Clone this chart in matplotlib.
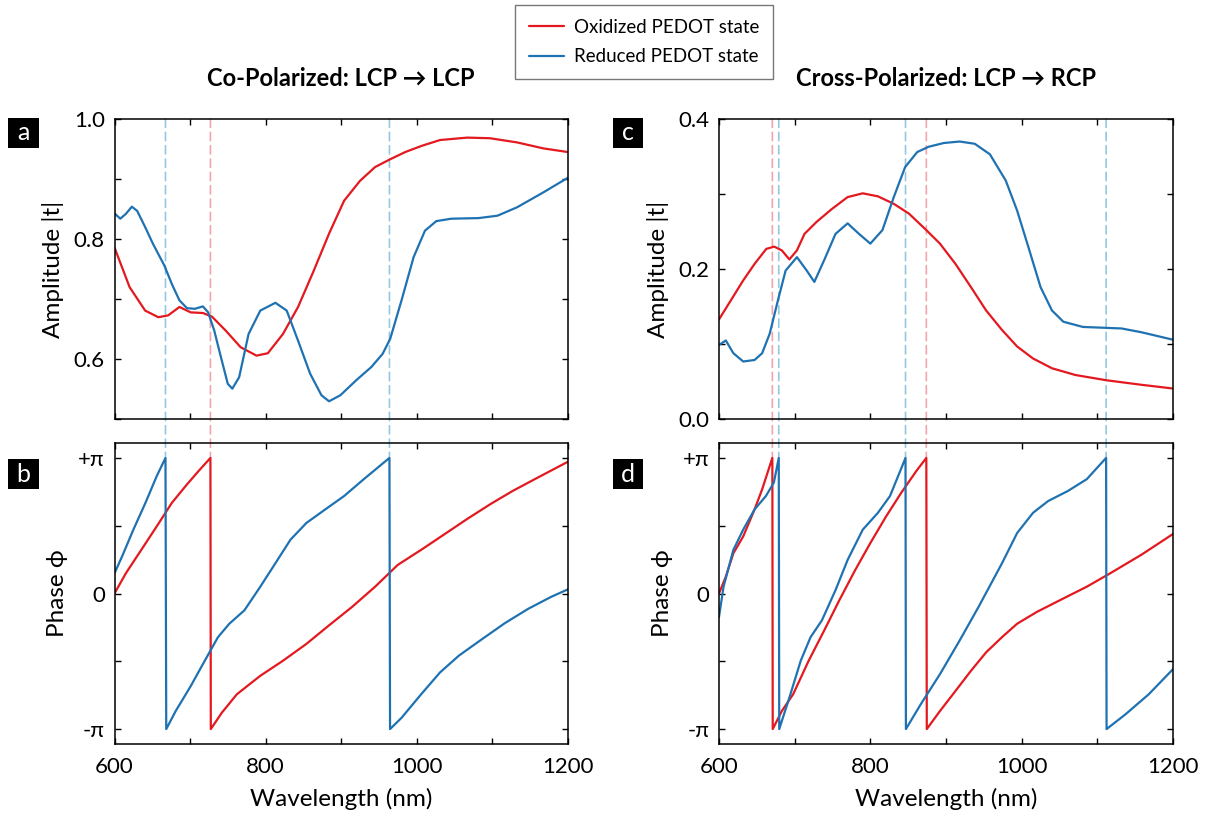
import numpy as np
import matplotlib
matplotlib.use('Agg')
import matplotlib.pyplot as plt
from matplotlib.patches import ConnectionPatch, Rectangle
from matplotlib.ticker import MultipleLocator, FixedLocator

plt.rcParams['font.family'] = ['Lato', 'DejaVu Sans']

# ---------------- data ----------------
# Panel a: co-polarized amplitude
wl_a_ox = [600, 620, 640.6, 658, 671, 686, 701, 717, 729, 747, 767, 788, 803, 823, 843, 864,
           884, 904, 925, 945, 965, 985, 1006, 1031, 1067, 1097, 1133, 1168, 1200]
amp_a_ox = [0.786, 0.720, 0.681, 0.670, 0.673, 0.687, 0.678, 0.677, 0.671, 0.648, 0.620, 0.606,
            0.610, 0.642, 0.687, 0.748, 0.809, 0.864, 0.897, 0.920, 0.933, 0.945, 0.955, 0.965,
            0.969, 0.968, 0.961, 0.951, 0.945]
wl_a_red = [600, 607.6, 615, 623, 630, 640.6, 651, 666, 676, 686, 696, 706.5, 717, 724, 732, 742,
            750, 756, 765, 777.5, 793, 813, 828, 843, 859, 874, 884, 899, 920, 940, 955, 965,
            980, 996, 1011, 1026, 1046, 1082, 1107, 1133, 1168, 1200]
amp_a_red = [0.843, 0.834, 0.842, 0.854, 0.847, 0.820, 0.792, 0.756, 0.725, 0.698, 0.685, 0.684,
             0.688, 0.678, 0.648, 0.598, 0.559, 0.551, 0.570, 0.642, 0.681, 0.694, 0.681, 0.631,
             0.576, 0.540, 0.530, 0.540, 0.565, 0.587, 0.609, 0.634, 0.698, 0.770, 0.814, 0.830,
             0.834, 0.835, 0.839, 0.853, 0.878, 0.902]

# Panel b: co-polarized phase (units of pi)
wl_b_ox = [600, 615, 635.5, 656, 676, 696, 711.6, 727, 727.5, 742, 762, 793, 823, 854, 884, 914.5,
           945, 975, 1006, 1036, 1067, 1097, 1127, 1158, 1200]
ph_b_ox = [0.0, 0.149, 0.322, 0.496, 0.669, 0.805, 0.905, 1.0, -1.0, -0.880, -0.743, -0.607,
           -0.496, -0.372, -0.235, -0.099, 0.050, 0.211, 0.322, 0.434, 0.550, 0.657, 0.756,
           0.848, 0.971]
wl_b_red = [600, 610, 625, 641, 656, 667.5, 668.5, 681, 701, 722, 737, 752, 772, 793, 813, 833,
            854, 879, 904, 930, 964, 964.8, 980, 1006, 1031, 1056, 1087, 1117, 1148, 1178, 1200]
ph_b_red = [0.149, 0.273, 0.471, 0.669, 0.867, 1.0, -1.0, -0.867, -0.682, -0.471, -0.322, -0.223,
            -0.124, 0.050, 0.223, 0.397, 0.520, 0.620, 0.719, 0.843, 1.0, -1.0, -0.917, -0.743,
            -0.582, -0.458, -0.335, -0.218, -0.112, -0.025, 0.030]

# Panel c: cross-polarized amplitude
wl_c_ox = [600, 616, 632, 647, 662.5, 673, 683, 693, 703, 713, 729, 749, 770, 790, 810, 831, 851,
           874, 892, 912.5, 933, 953, 974, 994, 1015, 1040, 1071, 1112, 1158, 1200]
amp_c_ox = [0.133, 0.159, 0.185, 0.207, 0.227, 0.230, 0.225, 0.213, 0.225, 0.247, 0.263, 0.280,
            0.296, 0.301, 0.297, 0.287, 0.274, 0.252, 0.234, 0.207, 0.176, 0.145, 0.119, 0.097,
            0.081, 0.068, 0.059, 0.052, 0.046, 0.041]
wl_c_red = [600, 609, 619, 632, 647, 657, 667, 678, 688, 703, 716, 726, 739, 754, 770, 785, 800,
            816, 831, 846, 862, 877, 897, 918, 938, 958, 979, 994, 1009, 1025, 1040, 1055, 1081,
            1132, 1158, 1200]
amp_c_red = [0.099, 0.105, 0.088, 0.077, 0.079, 0.088, 0.114, 0.159, 0.198, 0.216, 0.198, 0.183,
             0.212, 0.247, 0.261, 0.247, 0.234, 0.252, 0.296, 0.336, 0.356, 0.363, 0.368, 0.370,
             0.367, 0.353, 0.318, 0.278, 0.229, 0.176, 0.145, 0.130, 0.123, 0.121, 0.116, 0.106]

# Panel d: cross-polarized phase (units of pi)
wl_d_ox = [600, 609, 619, 632, 647, 657, 670.5, 671, 683, 698, 718.5, 739, 759, 780, 800, 821,
           841, 861, 874, 874.6, 892, 912.5, 933, 953, 974, 994, 1020, 1055, 1086, 1117, 1158, 1200]
ph_d_ox = [0.0, 0.124, 0.297, 0.421, 0.620, 0.768, 1.0, -1.0, -0.867, -0.743, -0.496, -0.273,
           -0.050, 0.173, 0.372, 0.570, 0.744, 0.905, 1.0, -1.0, -0.867, -0.719, -0.570, -0.434,
           -0.322, -0.223, -0.136, -0.037, 0.050, 0.149, 0.285, 0.439]
wl_d_red = [600, 606, 619, 632, 647, 662, 672.5, 679, 679.6, 693, 708, 721, 736, 754, 770, 790,
            810, 826, 846.5, 847, 866.5, 892, 918, 943, 974, 994, 1015, 1035, 1061, 1086, 1111.6,
            1112.2, 1137, 1168, 1200]
ph_d_red = [-0.173, 0.050, 0.322, 0.471, 0.620, 0.719, 0.818, 1.0, -1.0, -0.768, -0.496, -0.322,
            -0.198, 0.025, 0.248, 0.471, 0.595, 0.719, 1.0, -1.0, -0.818, -0.595, -0.347, -0.099,
            0.223, 0.446, 0.595, 0.682, 0.756, 0.843, 1.0, -1.0, -0.892, -0.743, -0.558]

# Vertical dashed markers (wavelengths of phase jumps)
dash_a_ox = [727]
dash_a_red = [667.5, 964]
dash_c_ox = [670.5, 874]
dash_c_red = [679, 846.5, 1111.6]

titles = ['Co-Polarized: LCP \u2192 LCP', 'Cross-Polarized: LCP \u2192 RCP']
legend_labels = ['Oxidized PEDOT state', 'Reduced PEDOT state']
panel_letters = ['a', 'b', 'c', 'd']

RED = '#e3191f'
BLUE = '#1f72b2'
LRED = '#f2a5ad'
LBLUE = '#93c8e0'

# ---------------- figure ----------------
W, H = 1206, 822
fig = plt.figure(figsize=(W / 100, H / 100), dpi=100)

def box(x0, y0, x1, y1):
    return [x0 / W, 1 - y1 / H, (x1 - x0) / W, (y1 - y0) / H]

ax_a = fig.add_axes(box(114.5, 119, 567.7, 419.3))
ax_b = fig.add_axes(box(114.5, 443, 567.7, 744))
ax_c = fig.add_axes(box(719, 119, 1173, 419.3))
ax_d = fig.add_axes(box(719, 443, 1173, 744))

lw = 1.6
kw = dict(lw=lw, solid_joinstyle='round', solid_capstyle='round')
ax_a.plot(wl_a_ox, amp_a_ox, color=RED, label=legend_labels[0], **kw)
ax_a.plot(wl_a_red, amp_a_red, color=BLUE, label=legend_labels[1], **kw)
ax_b.plot(wl_b_ox, ph_b_ox, color=RED, **kw)
ax_b.plot(wl_b_red, ph_b_red, color=BLUE, **kw)
ax_c.plot(wl_c_ox, amp_c_ox, color=RED, **kw)
ax_c.plot(wl_c_red, amp_c_red, color=BLUE, **kw)
ax_d.plot(wl_d_ox, ph_d_ox, color=RED, **kw)
ax_d.plot(wl_d_red, ph_d_red, color=BLUE, **kw)

for ax in (ax_a, ax_b, ax_c, ax_d):
    ax.set_xlim(600, 1200)
    ax.xaxis.set_major_locator(MultipleLocator(200))
    ax.xaxis.set_minor_locator(MultipleLocator(100))
    ax.tick_params(which='both', direction='in', top=True, right=True, length=4.5, width=1.0,
                   labelsize=16, colors='black')
    ax.tick_params(axis='x', pad=9)
    ax.tick_params(axis='y', pad=7)
    for s in ax.spines.values():
        s.set_linewidth(1.1)
    ax.patch.set_visible(False)

for ax in (ax_a, ax_c):
    ax.tick_params(labelbottom=False)
    ax.set_ylabel('Amplitude |t|', fontsize=17.5, labelpad=7)

ax_a.set_ylim(0.5, 1.0)
ax_a.yaxis.set_major_locator(FixedLocator([0.6, 0.8, 1.0]))
ax_a.yaxis.set_minor_locator(FixedLocator([0.5, 0.7, 0.9]))
ax_a.set_yticklabels(['0.6', '0.8', '1.0'])
ax_c.set_ylim(0.0, 0.4)
ax_c.yaxis.set_major_locator(FixedLocator([0.0, 0.2, 0.4]))
ax_c.yaxis.set_minor_locator(FixedLocator([0.1, 0.3]))
ax_c.set_yticklabels(['0.0', '0.2', '0.4'])

for ax in (ax_b, ax_d):
    ax.set_ylim(-1.11, 1.11)
    ax.yaxis.set_major_locator(FixedLocator([-1, 0, 1]))
    ax.yaxis.set_minor_locator(FixedLocator([-0.5, 0.5]))
    ax.set_yticklabels(['-\u03c0', '0', '+\u03c0'])
    ax.set_ylabel('Phase \u03d5', fontsize=17.5, labelpad=7)
    ax.set_xlabel('Wavelength (nm)', fontsize=17.5, labelpad=8)

# dashed markers spanning top panel and gap down to +pi
def add_dash(ax_top, ax_bot, x, color):
    cp = ConnectionPatch(xyA=(x, 1.0), coordsA=ax_top.get_xaxis_transform(),
                         xyB=(x, 1.0), coordsB=ax_bot.transData,
                         color=color, lw=1.2, ls=(0, (5, 3)), zorder=-1)
    fig.add_artist(cp)

for x in dash_a_ox:
    add_dash(ax_a, ax_b, x, LRED)
for x in dash_a_red:
    add_dash(ax_a, ax_b, x, LBLUE)
for x in dash_c_ox:
    add_dash(ax_c, ax_d, x, LRED)
for x in dash_c_red:
    add_dash(ax_c, ax_d, x, LBLUE)

# titles
ax_a.set_title(titles[0], fontsize=17, fontweight='bold', pad=24)
ax_c.set_title(titles[1], fontsize=17, fontweight='bold', pad=24)

# panel letters
letter_boxes = [(8, 118, 39, 148), (8, 459, 39, 489), (613, 118, 643, 148), (613, 459, 643, 489)]
for letter, (x0, y0, x1, y1) in zip(panel_letters, letter_boxes):
    fig.add_artist(Rectangle((x0 / W, 1 - y1 / H), (x1 - x0) / W, (y1 - y0) / H,
                             transform=fig.transFigure, facecolor='black', edgecolor='none'))
    fig.text((x0 + x1) / 2 / W, 1 - (y0 + y1) / 2 / H, letter, color='white', fontsize=18,
             ha='center', va='center')

# legend
handles, labels = ax_a.get_legend_handles_labels()
leg = fig.legend(handles, labels, loc='center', bbox_to_anchor=(644 / W, 1 - 42 / H),
                 fontsize=13.5, frameon=True, fancybox=False, edgecolor='#555555',
                 handlelength=1.9, handletextpad=0.5, borderpad=0.75, labelspacing=0.65,
                 borderaxespad=0)
leg.get_frame().set_linewidth(1.0)

fig.savefig('out.png', dpi=100)
